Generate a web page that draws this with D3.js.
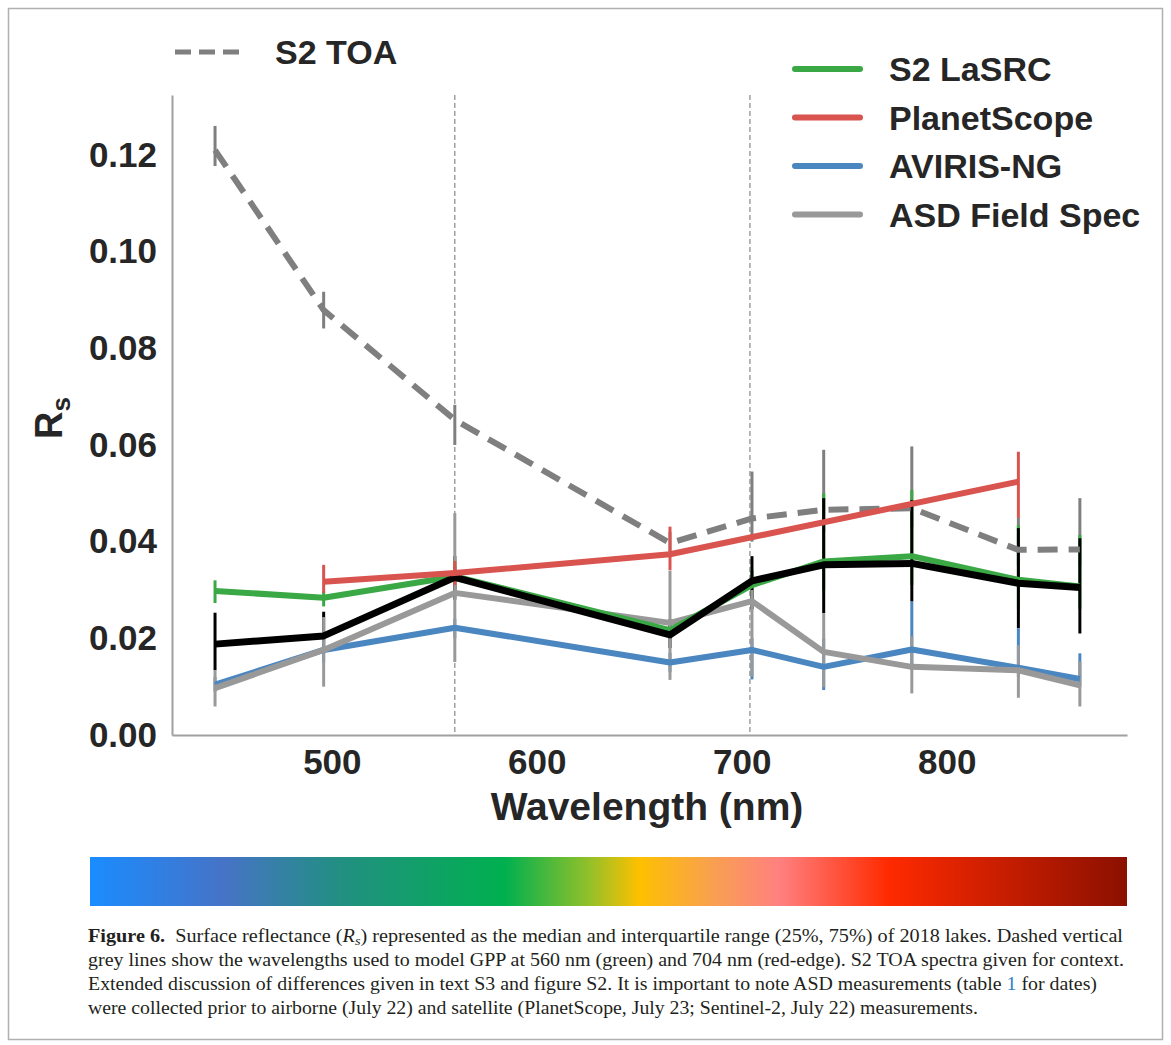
<script src="https://d3js.org/d3.v7.min.js"></script>
<style>
  body { margin: 0; background: #fff; }
</style>
<svg id="vis"></svg>

<script>
  // wavelengths (nm) of the band centres
  var s2Bands = [443, 496, 560, 665, 705, 740, 783, 835, 865];
  var psBands = [496, 560, 665, 835];
  var xTicks = [500, 600, 700, 800];
  var yTicks = [0, 0.02, 0.04, 0.06, 0.08, 0.10, 0.12];
  var gppBands = [560, 704];

  // medians
  var s2Toa = [0.121, 0.0879, 0.0652, 0.0397, 0.0448, 0.0466, 0.0469, 0.0383, 0.0384];
  var s2Lasrc = [0.0298, 0.0284, 0.0328, 0.0217, 0.031, 0.0359, 0.037, 0.0321, 0.0307];
  var s2Other = [0.0188, 0.0205, 0.0326, 0.0207, 0.0319, 0.0352, 0.0355, 0.0314, 0.0305];
  var planet = [0.0317, 0.0335, 0.0374, 0.0524];
  var aviris = [0.0104, 0.0176, 0.0222, 0.015, 0.0176, 0.0141, 0.0177, 0.0139, 0.0116];
  var asd = [0.0097, 0.0176, 0.0294, 0.0232, 0.0277, 0.0172, 0.0141, 0.0134, 0.0103];

  // interquartile ranges [25%, 75%]
  var s2ToaIqr = [[0.1177, 0.126], [0.0841, 0.0917], [0.060, 0.0683], [0.037, 0.042], [0.040, 0.0545],
                  [0.042, 0.059], [0.043, 0.0597], [0.035, 0.0449], [0.035, 0.049]];
  var s2LasrcIqr = [[0.0273, 0.032], [0.0266, 0.0297], [0.030, 0.035], [0.020, 0.023], [0.028, 0.034],
                    [0.030, 0.050], [0.031, 0.0507], [0.026, 0.0434], [0.026, 0.0414]];
  var s2OtherIqr = [[0.0134, 0.0253], [0.017, 0.0255], [0.028, 0.037], [0.018, 0.024], [0.026, 0.037],
                    [0.0252, 0.049], [0.0276, 0.0486], [0.0221, 0.0428], [0.021, 0.0407]];
  var planetIqr = [[0.0294, 0.0352], [0.031, 0.036], [0.0341, 0.0431], [0.0449, 0.0586]];
  var avirisIqr = [[0.009, 0.012], [0.015, 0.02], [0.02, 0.024], [0.013, 0.017], [0.0115, 0.02],
                   [0.0093, 0.02], [0.0135, 0.0276], [0.012, 0.0221], [0.0100, 0.0169]];
  var asdIqr = [[0.0059, 0.0134], [0.01, 0.0244], [0.0151, 0.0459], [0.0114, 0.034], [0.0121, 0.03],
                [0.0099, 0.0252], [0.0086, 0.0204], [0.0077, 0.0186], [0.0059, 0.0152]];

  var legendNames = ['S2 LaSRC', 'PlanetScope', 'AVIRIS-NG', 'ASD Field Spec'];

  var green = '#3aa845', red = '#d9534f', blue = '#4a86c0', grey = '#999999', darkGrey = '#7f7f7f';

  var svg = d3.select('#vis')
      .attr('width', 1171)
      .attr('height', 1045)
      .style('font-family', '"Liberation Sans", Arial, sans-serif');

  // figure frame
  svg.append('rect')
      .attr('x', 8.5).attr('y', 8.5)
      .attr('width', 1154).attr('height', 1031)
      .attr('fill', 'none')
      .attr('stroke', '#b0b0b0')
      .attr('stroke-width', 1.5);

  var xScale = d3.scaleLinear()
      .domain([422, 888])
      .range([172, 1127]);

  var yScale = d3.scaleLinear()
      .domain([0, 0.1324])
      .range([735, 95]);

  // axes
  var yAxis = svg.append('g')
      .attr('transform', 'translate(172,0)')
      .call(d3.axisLeft(yScale).tickValues(yTicks).tickFormat(d3.format('.2f')).tickSize(0).tickPadding(15));
  var xAxis = svg.append('g')
      .attr('transform', 'translate(0,735)')
      .call(d3.axisBottom(xScale).tickValues(xTicks).tickSize(0).tickPadding(14));

  [xAxis, yAxis].forEach(function(ax) {
    ax.select('.domain').attr('stroke', '#a0a0a0').attr('stroke-width', 2);
    ax.selectAll('text')
        .attr('font-size', 35)
        .attr('font-weight', 'bold')
        .attr('fill', '#262626')
        .attr('font-family', '"Liberation Sans", Arial, sans-serif');
  });

  // axis titles
  svg.append('text')
      .attr('x', 647).attr('y', 820)
      .attr('text-anchor', 'middle')
      .attr('font-size', 39)
      .attr('font-weight', 'bold')
      .attr('fill', '#262626')
      .text('Wavelength (nm)');

  var yTitle = svg.append('text')
      .attr('transform', 'translate(62,418) rotate(-90)')
      .attr('text-anchor', 'middle')
      .attr('font-weight', 'bold')
      .attr('fill', '#262626');
  yTitle.append('tspan').attr('font-size', 38).text('R');
  yTitle.append('tspan').attr('font-size', 26).attr('dy', 8).text('s');

  // dashed GPP wavelengths
  svg.selectAll('.gpp')
      .data(gppBands)
      .enter().append('line')
      .attr('x1', function(d) {return xScale(d);})
      .attr('x2', function(d) {return xScale(d);})
      .attr('y1', yScale.range()[1])
      .attr('y2', yScale.range()[0])
      .attr('stroke', '#888')
      .attr('stroke-width', 1.2)
      .attr('stroke-dasharray', '5,3');

  // series list: error bars drawn bottom -> top in this order
  function pack(bands, med, iqr) {
    return bands.map(function(b, i) {return {w: b, v: med[i], lo: iqr[i][0], hi: iqr[i][1]};});
  }
  var toaPts = pack(s2Bands, s2Toa, s2ToaIqr);
  var lasrcPts = pack(s2Bands, s2Lasrc, s2LasrcIqr);
  var otherPts = pack(s2Bands, s2Other, s2OtherIqr);
  var planetPts = pack(psBands, planet, planetIqr);
  var avirisPts = pack(s2Bands, aviris, avirisIqr);
  var asdPts = pack(s2Bands, asd, asdIqr);

  var errOrder = [
    [toaPts, darkGrey], [lasrcPts, green], [otherPts, '#000'],
    [avirisPts, blue], [asdPts, grey], [planetPts, red]
  ];
  errOrder.forEach(function(s) {
    svg.append('g').selectAll('line')
        .data(s[0])
        .enter().append('line')
        .attr('x1', function(d) {return xScale(d.w);})
        .attr('x2', function(d) {return xScale(d.w);})
        .attr('y1', function(d) {return yScale(d.lo);})
        .attr('y2', function(d) {return yScale(d.hi);})
        .attr('stroke', s[1])
        .attr('stroke-width', 3);
  });

  var line = d3.line()
      .x(function(d) {return xScale(d.w);})
      .y(function(d) {return yScale(d.v);});

  var lineOrder = [
    [avirisPts, blue, 6, null], [asdPts, grey, 6, null], [lasrcPts, green, 6, null],
    [otherPts, '#000', 7, null], [toaPts, darkGrey, 6, '20,11'], [planetPts, red, 6, null]
  ];
  lineOrder.forEach(function(s) {
    svg.append('path')
        .datum(s[0])
        .attr('d', line)
        .attr('fill', 'none')
        .attr('stroke', s[1])
        .attr('stroke-width', s[2])
        .attr('stroke-linejoin', 'round')
        .attr('stroke-dasharray', s[3]);
  });

  // legends
  svg.append('line')
      .attr('x1', 175).attr('x2', 240)
      .attr('y1', 52).attr('y2', 52)
      .attr('stroke', darkGrey)
      .attr('stroke-width', 5)
      .attr('stroke-dasharray', '16,8');
  svg.append('text')
      .attr('x', 275).attr('y', 64)
      .attr('font-size', 34)
      .attr('font-weight', 'bold')
      .attr('fill', '#262626')
      .text('S2 TOA');

  var legendColors = [green, red, blue, grey];
  var leg = svg.selectAll('.leg')
      .data(legendNames)
      .enter().append('g')
      .attr('transform', function(d, i) {return 'translate(0,' + (69 + i * 48.5) + ')';});
  leg.append('line')
      .attr('x1', 795).attr('x2', 860)
      .attr('stroke', function(d, i) {return legendColors[i];})
      .attr('stroke-width', 6)
      .attr('stroke-linecap', 'round');
  leg.append('text')
      .attr('x', 889).attr('y', 12)
      .attr('font-size', 34)
      .attr('font-weight', 'bold')
      .attr('fill', '#262626')
      .text(function(d) {return d;});

  // spectrum colour bar
  var spectrumStops = [
    [0, '#1a8cff'], [0.13, '#4673c6'], [0.24, '#228f82'], [0.40, '#00b04f'],
    [0.48, '#90c02a'], [0.53, '#ffc000'], [0.60, '#f8a050'], [0.665, '#ff8080'],
    [0.77, '#ff2a00'], [1, '#8b1000']
  ];
  var grad = svg.append('defs').append('linearGradient').attr('id', 'spec');
  grad.selectAll('stop')
      .data(spectrumStops)
      .enter().append('stop')
      .attr('offset', function(d) {return d[0];})
      .attr('stop-color', function(d) {return d[1];});
  svg.append('rect')
      .attr('x', 90).attr('y', 857)
      .attr('width', 1037).attr('height', 49)
      .attr('fill', 'url(#spec)');

  // caption
  var cap = svg.append('g')
      .attr('font-family', '"Liberation Serif", "Times New Roman", serif')
      .attr('font-size', 18.5)
      .attr('fill', '#231f20');

  var l1 = cap.append('text').attr('x', 88).attr('y', 942).attr('textLength', 1035).attr('lengthAdjust', 'spacingAndGlyphs');
  l1.append('tspan').attr('font-weight', 'bold').text('Figure 6.');
  l1.append('tspan').text('\u00a0 Surface reflectance (');
  l1.append('tspan').attr('font-style', 'italic').text('R');
  l1.append('tspan').attr('font-style', 'italic').attr('font-size', 13).attr('dy', 3).text('s');
  l1.append('tspan').attr('dy', -3).text(') represented as the median and interquartile range (25%, 75%) of 2018 lakes. Dashed vertical');

  cap.append('text').attr('x', 88).attr('y', 966).attr('textLength', 1036).attr('lengthAdjust', 'spacingAndGlyphs')
      .text('grey lines show the wavelengths used to model GPP at 560 nm (green) and 704 nm (red-edge). S2 TOA spectra given for context.');

  var l3 = cap.append('text').attr('x', 88).attr('y', 990).attr('textLength', 1009).attr('lengthAdjust', 'spacingAndGlyphs');
  l3.append('tspan').text('Extended discussion of differences given in text S3 and figure S2. It is important to note ASD measurements (table ');
  l3.append('tspan').attr('fill', '#2a7fc1').text('1');
  l3.append('tspan').text(' for dates)');

  cap.append('text').attr('x', 88).attr('y', 1014).attr('textLength', 890).attr('lengthAdjust', 'spacingAndGlyphs')
      .text('were collected prior to airborne (July 22) and satellite (PlanetScope, July 23; Sentinel-2, July 22) measurements.');
</script>
